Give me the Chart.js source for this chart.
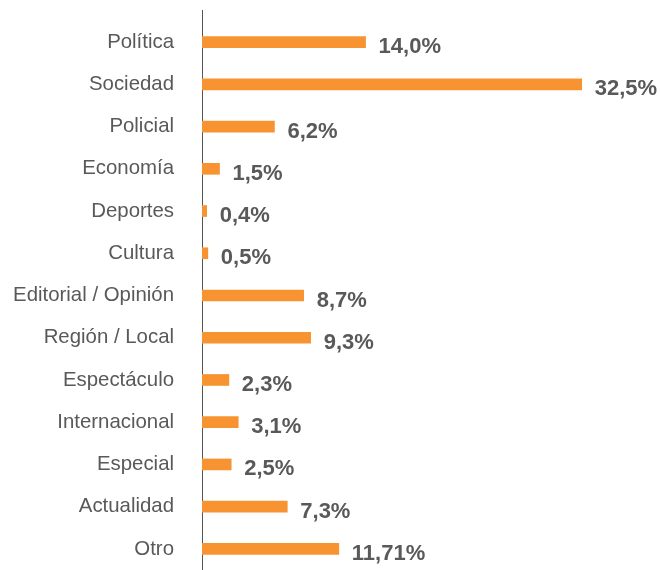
<!DOCTYPE html>
<html>
<head>
<meta charset="utf-8">
<script src="https://cdn.jsdelivr.net/npm/chart.js@4"></script>
<style>
  html, body { margin: 0; padding: 0; background: #fff; overflow: hidden; }
  canvas { display: block; }
</style>
</head>
<body>
<canvas id="barChart" width="660" height="570"></canvas>
<script>
// categories and values
const categories = ["Política","Sociedad","Policial","Economía","Deportes","Cultura","Editorial / Opinión","Región / Local","Espectáculo","Internacional","Especial","Actualidad","Otro"];
const shares = [14.0, 32.5, 6.2, 1.5, 0.4, 0.5, 8.7, 9.3, 2.3, 3.1, 2.5, 7.3, 11.71];
const shareLabels = ["14,0%","32,5%","6,2%","1,5%","0,4%","0,5%","8,7%","9,3%","2,3%","3,1%","2,5%","7,3%","11,71%"];

const grey = "#595959";

// value labels next to each bar + the vertical axis line
const barLabels = {
    id: "barLabels",
    beforeDatasetsDraw(chart){
        const ctx = chart.ctx;
        const area = chart.chartArea;
        ctx.save();
        ctx.strokeStyle = "#555555";
        ctx.lineWidth = 1;
        ctx.beginPath();
        ctx.moveTo(area.left + 0.5, 10);
        ctx.lineTo(area.left + 0.5, area.bottom);
        ctx.stroke();
        ctx.restore();
    },
    afterDatasetsDraw(chart){
        const ctx = chart.ctx;
        const meta = chart.getDatasetMeta(0);
        ctx.save();
        ctx.font = "bold 22px 'Liberation Sans', Arial, sans-serif";
        ctx.fillStyle = grey;
        ctx.textAlign = "left";
        ctx.textBaseline = "middle";
        meta.data.forEach((bar, i) => {
            ctx.fillText(shareLabels[i], bar.x + 13, bar.y + 5);
        });
        ctx.restore();
    },
};

const barCtx = document.getElementById("barChart").getContext("2d");
let topicChart = new Chart(barCtx,{
    type: "bar",
    data:{
        labels: categories,
        datasets:[{
            data: shares,
            backgroundColor: "#F79431",
            borderWidth: 0,
            barThickness: 11,
        }],
    },
    options:{
        indexAxis: "y",
        responsive: false,
        animation: false,
        layout:{
            padding:{ top: 21, bottom: 0, left: 0, right: 0 },
        },
        plugins:{
            legend:{ display: false },
            tooltip:{ enabled: false },
        },
        scales:{
            x:{
                display: false,
                min: 0,
                max: 39.2,
            },
            y:{
                afterFit(scale){
                    scale.width = 202;
                    scale.paddingTop = 0;
                    scale.paddingBottom = 0;
                },
                grid:{ display: false, drawTicks: false },
                border:{ display: false },
                ticks:{
                    color: grey,
                    padding: 28,
                    font:{ family: "'Liberation Sans', Arial, sans-serif", size: 20.4 },
                },
            },
        },
    },
    plugins: [barLabels],
});
</script>
</body>
</html>
